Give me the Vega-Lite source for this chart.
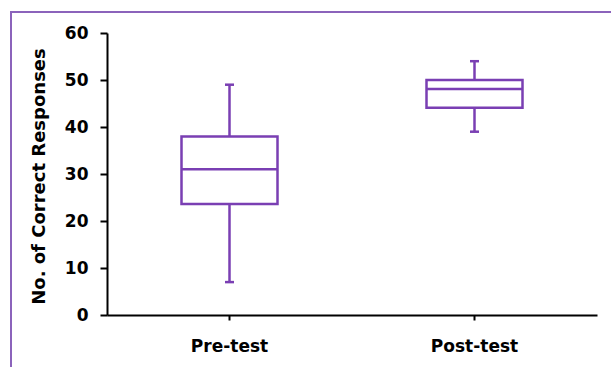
{
  "$schema": "https://vega.github.io/schema/vega-lite/v6.json",
  "width": 602,
  "height": 358,
  "autosize": {"type": "none"},
  "padding": {"left": 11, "top": 12, "right": 0, "bottom": 0},
  "background": "white",
  "config": {
    "view": {"stroke": "#8b63bb", "strokeWidth": 2},
    "font": "DejaVu Sans"
  },
  "data": {
    "values": [
      {"test": "Pre-test", "min": 7, "q1": 23.6, "median": 31, "q3": 38, "max": 49},
      {"test": "Post-test", "min": 39, "q1": 44.1, "median": 48.1, "q3": 50, "max": 54}
    ]
  },
  "encoding": {
    "x": {
      "field": "test",
      "type": "nominal",
      "sort": ["Pre-test", "Post-test"],
      "scale": {"range": [96, 586], "paddingInner": 0, "paddingOuter": 0},
      "axis": {
        "offset": -55,
        "title": null,
        "labelAngle": 0,
        "tickSize": 5,
        "tickWidth": 2,
        "tickColor": "black",
        "domainWidth": 2,
        "domainColor": "black",
        "labelFont": "DejaVu Sans",
        "labelFontSize": 17,
        "labelFontWeight": "bold",
        "labelColor": "black",
        "labelPadding": 18,
        "grid": false
      }
    }
  },
  "layer": [
    {
      "mark": {"type": "rule", "color": "#7a3fb3", "strokeWidth": 2.5},
      "encoding": {
        "y": {
          "field": "min",
          "type": "quantitative",
          "scale": {"domain": [0, 60], "range": [303, 21], "nice": false, "zero": false},
          "axis": {
            "offset": -96,
            "values": [0, 10, 20, 30, 40, 50, 60],
            "tickSize": 7,
            "tickWidth": 2,
            "tickColor": "black",
            "domainWidth": 2,
            "domainColor": "black",
            "grid": false,
            "labelFont": "DejaVu Sans",
            "labelFontSize": 17,
            "labelFontWeight": "bold",
            "labelColor": "black",
            "labelPadding": 12,
            "title": "No. of Correct Responses",
            "titleFont": "DejaVu Sans",
            "titleFontSize": 18,
            "titleFontWeight": "bold",
            "titleColor": "black",
            "titleAngle": -90,
            "titleX": -68,
            "titleY": 164,
            "titleAlign": "center",
            "titleBaseline": "middle"
          }
        },
        "y2": {"field": "max"}
      }
    },
    {
      "mark": {"type": "bar", "fill": "white", "stroke": "#7a3fb3", "strokeWidth": 2.5, "size": 96},
      "encoding": {
        "y": {"field": "q1", "type": "quantitative"},
        "y2": {"field": "q3"}
      }
    },
    {
      "mark": {"type": "tick", "color": "#7a3fb3", "opacity": 1, "thickness": 2.5, "size": 96},
      "encoding": {"y": {"field": "median", "type": "quantitative"}}
    },
    {
      "mark": {"type": "tick", "color": "#7a3fb3", "opacity": 1, "thickness": 2.5, "size": 9},
      "encoding": {"y": {"field": "min", "type": "quantitative"}}
    },
    {
      "mark": {"type": "tick", "color": "#7a3fb3", "opacity": 1, "thickness": 2.5, "size": 9},
      "encoding": {"y": {"field": "max", "type": "quantitative"}}
    }
  ]
}
